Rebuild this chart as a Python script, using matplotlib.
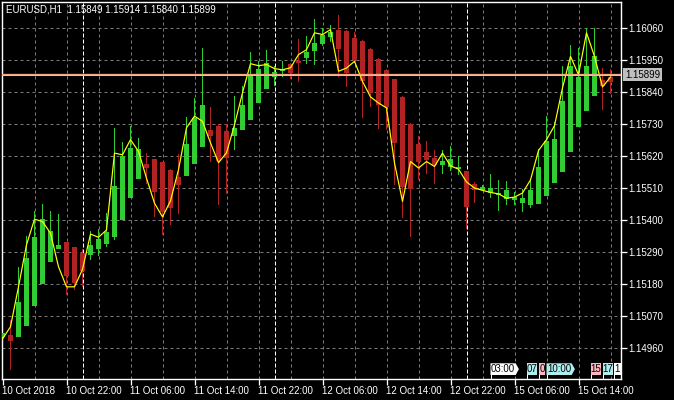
import matplotlib
matplotlib.use("Agg")
import matplotlib.pyplot as plt
from matplotlib.patches import Polygon, Rectangle
import matplotlib.transforms as mtransforms

# ---- datos del grafico (EURUSD H1) ----
symbol_title = "EURUSD,H1  1.15849 1.15914 1.15840 1.15899"

opens = [
    1.14999, 1.15005, 1.15000, 1.15037, 1.15106, 1.15182, 1.15257, 1.15301, 1.15325, 1.15308,
    1.15287, 1.15280, 1.15301, 1.15318, 1.15342, 1.15401, 1.15476, 1.15542, 1.15593, 1.15610,
    1.15600, 1.15573, 1.15549, 1.15552, 1.15593, 1.15652, 1.15710, 1.15724, 1.15707, 1.15690,
    1.15710, 1.15744, 1.15803, 1.15851, 1.15892, 1.15913, 1.15937, 1.15947, 1.15958, 1.15982,
    1.16006, 1.16030, 1.16054, 1.16050, 1.16026, 1.16016, 1.15989, 1.15954, 1.15916, 1.15885,
    1.15824, 1.15731, 1.15662, 1.15635, 1.15614, 1.15590, 1.15583, 1.15576, 1.15569, 1.15525,
    1.15504, 1.15494, 1.15487, 1.15473, 1.15470, 1.15459, 1.15452, 1.15456, 1.15483, 1.15528,
    1.15566, 1.15635, 1.15720, 1.15775, 1.15827, 1.15882, 1.15892]

highs = [
    1.15023, 1.15057, 1.15239, 1.15346, 1.15432, 1.15456, 1.15432, 1.15421, 1.15326, 1.15309,
    1.15301, 1.15363, 1.15370, 1.15425, 1.15717, 1.15669, 1.15724, 1.15683, 1.15631, 1.15611,
    1.15601, 1.15574, 1.15628, 1.15755, 1.15820, 1.15992, 1.15789, 1.15731, 1.15731, 1.15827,
    1.15861, 1.15978, 1.15947, 1.15985, 1.15930, 1.15947, 1.15938, 1.16023, 1.16033, 1.16092,
    1.16061, 1.16071, 1.16105, 1.16051, 1.16044, 1.16019, 1.15990, 1.15958, 1.15917, 1.15886,
    1.15825, 1.15734, 1.15690, 1.15672, 1.15641, 1.15641, 1.15655, 1.15621, 1.15570, 1.15531,
    1.15521, 1.15559, 1.15538, 1.15535, 1.15497, 1.15507, 1.15542, 1.15645, 1.15758, 1.15738,
    1.15930, 1.16002, 1.15992, 1.16061, 1.16061, 1.15923, 1.15920]

lows = [
    1.14988, 1.14885, 1.14998, 1.15036, 1.15105, 1.15181, 1.15256, 1.15300, 1.15143, 1.15160,
    1.15170, 1.15263, 1.15277, 1.15308, 1.15332, 1.15400, 1.15475, 1.15541, 1.15525, 1.15411,
    1.15349, 1.15384, 1.15421, 1.15551, 1.15592, 1.15651, 1.15600, 1.15452, 1.15490, 1.15641,
    1.15709, 1.15743, 1.15802, 1.15850, 1.15861, 1.15891, 1.15885, 1.15875, 1.15937, 1.15934,
    1.15999, 1.16013, 1.15892, 1.15858, 1.15940, 1.15751, 1.15789, 1.15714, 1.15710, 1.15521,
    1.15408, 1.15342, 1.15538, 1.15559, 1.15525, 1.15559, 1.15569, 1.15555, 1.15370, 1.15459,
    1.15500, 1.15476, 1.15432, 1.15452, 1.15452, 1.15428, 1.15442, 1.15455, 1.15482, 1.15527,
    1.15565, 1.15634, 1.15719, 1.15774, 1.15826, 1.15779, 1.15834]

closes = [
    1.15012, 1.14985, 1.15119, 1.15270, 1.15342, 1.15404, 1.15363, 1.15315, 1.15208, 1.15184,
    1.15225, 1.15315, 1.15335, 1.15359, 1.15518, 1.15621, 1.15648, 1.15645, 1.15580, 1.15497,
    1.15428, 1.15442, 1.15521, 1.15662, 1.15751, 1.15796, 1.15690, 1.15604, 1.15614, 1.15717,
    1.15796, 1.15899, 1.15920, 1.15940, 1.15910, 1.15920, 1.15906, 1.15940, 1.15978, 1.16009,
    1.16037, 1.16044, 1.15989, 1.15906, 1.15951, 1.15879, 1.15837, 1.15796, 1.15789, 1.15665,
    1.15514, 1.15507, 1.15600, 1.15607, 1.15590, 1.15604, 1.15610, 1.15583, 1.15445, 1.15504,
    1.15514, 1.15511, 1.15494, 1.15504, 1.15480, 1.15476, 1.15504, 1.15583, 1.15672, 1.15679,
    1.15810, 1.15930, 1.15892, 1.15930, 1.15965, 1.15861, 1.15875]

# linea amarilla (indicador)
ma_line = [
    1.14992, 1.15034, 1.15171, 1.15315, 1.15403, 1.15395, 1.15355, 1.15240, 1.15171, 1.15171,
    1.15231, 1.15352, 1.15341, 1.15366, 1.15630, 1.15624, 1.15676, 1.15636, 1.15544, 1.15458,
    1.15411, 1.15466, 1.15573, 1.15717, 1.15757, 1.15739, 1.15665, 1.15597, 1.15631, 1.15727,
    1.15837, 1.15937, 1.15930, 1.15934, 1.15920, 1.15916, 1.15923, 1.15968, 1.15985, 1.16043,
    1.16037, 1.16054, 1.15911, 1.15922, 1.15945, 1.15876, 1.15823, 1.15802, 1.15785, 1.15596,
    1.15464, 1.15601, 1.15579, 1.15601, 1.15584, 1.15630, 1.15586, 1.15575, 1.15531, 1.15510,
    1.15502, 1.15495, 1.15490, 1.15475, 1.15479, 1.15493, 1.15538, 1.15639, 1.15676, 1.15724,
    1.15854, 1.15962, 1.15899, 1.16043, 1.15962, 1.15857, 1.15891]

bid_price = 1.15899

price_ticks = [1.16060, 1.15950, 1.15840, 1.15730, 1.15620, 1.15510,
               1.15400, 1.15290, 1.15180, 1.15070, 1.14960]

time_tick_bars = [0, 8, 16, 24, 32, 40, 48, 56, 64, 72]
time_tick_labels = ["10 Oct 2018", "10 Oct 22:00", "11 Oct 06:00", "11 Oct 14:00",
                    "11 Oct 22:00", "12 Oct 06:00", "12 Oct 14:00", "12 Oct 22:00",
                    "15 Oct 06:00", "15 Oct 14:00"]

# separadores de dia (barra de las 00:00)
day_start_bars = [10, 34, 58]

# eventos del calendario (posicion en barras, texto visible, tipo)
event_bars = [61, 65.5, 67, 68, 73.5, 75, 76.45]
event_labels = ["03:00", "07", "0", "10:00", "15", "17", "1"]
event_kinds = [0, 1, 2, 1, 2, 1, 0]

# ---- estilo ----
PX = 0.72  # 1 pixel en puntos (dpi=100)
verde = "#32cd32"
rojo = "#b22222"
color_evento = {0: "#ffffff", 1: "#afeeee", 2: "#ffb6c1"}
fuente = "Liberation Sans"

fig = plt.figure(figsize=(6.74, 4.0), dpi=100, facecolor="black")
ax = fig.add_axes([2 / 674, 21 / 400, 619 / 674, 377 / 400], facecolor="black")

n = len(opens)
# 8 pixeles por barra, centros de vela sobre centros de pixel
x_min = -0.0625
x_max = x_min + 619 / 8
y_min, y_max = 1.148545, 1.161487
ax.set_xlim(x_min, x_max)
ax.set_ylim(y_min, y_max)

# rejilla punteada
for p in price_ticks:
    ax.axhline(p, color="#7a7a7a", lw=PX, linestyle=(0, (3, 3)), zorder=0)
for b in range(4, n + 1, 4):
    ax.axvline(b, color="#7a7a7a", lw=PX, linestyle=(0, (3, 3)), zorder=0)
for b in day_start_bars:
    ax.axvline(b, color="white", lw=PX, linestyle=(0, (4, 2)), zorder=0.5)

# velas: mecha de 1 px y cuerpo de 5 px
min_body = 0.000035
ancho = 5 / 8
ancho_mecha = 1 / 8
for i in range(n):
    o, h, l, c = opens[i], highs[i], lows[i], closes[i]
    col = verde if c >= o else rojo
    ax.add_patch(Rectangle((i - ancho_mecha / 2, l), ancho_mecha, h - l, fc=col,
                           ec="none", zorder=2))
    alto = max(abs(c - o), min_body)
    ax.add_patch(Rectangle((i - ancho / 2, min(o, c)), ancho, alto, fc=col,
                           ec="none", zorder=3))

# indicador amarillo
ax.plot(range(n), ma_line, color="#ffff00", lw=PX * 1.2, zorder=4)

# linea bid / ask
ax.axhline(bid_price + 0.000017, color="#f4a582", lw=PX * 1.3, zorder=5)
ax.axhline(bid_price - 0.000017, color="#c8c8c8", lw=PX, zorder=5)

# ejes
for s in ax.spines.values():
    s.set_color("white")
    s.set_linewidth(PX * 1.4)

ax.yaxis.tick_right()
ax.set_yticks(price_ticks)
ax.set_yticklabels([f"{p:.5f}" for p in price_ticks], fontfamily=fuente)
ax.set_xticks(time_tick_bars)
ax.set_xticklabels(time_tick_labels, fontfamily=fuente, ha="left")
ax.tick_params(colors="white", labelsize=7, length=4, width=PX * 1.3, pad=1)

# etiqueta de precio a la derecha
ax.annotate(f"{bid_price:.5f}", xy=(1.0, bid_price), xycoords=("axes fraction", "data"),
            xytext=(4, 0), textcoords="offset pixels", va="center", ha="left",
            fontsize=7, fontfamily=fuente, color="black",
            bbox=dict(boxstyle="square,pad=0.18", fc="#c0c0c0", ec="none"),
            annotation_clip=False)

# titulo
fig.text(6 / 674, 1 - 10 / 400, symbol_title, color="white", fontsize=7,
         fontfamily=fuente, va="center", ha="left")

# marcadores de eventos abajo a la derecha
trans = mtransforms.blended_transform_factory(ax.transData, ax.transAxes)
y0, y1 = 4 / 377, 15.7 / 377
ym = (y0 + y1) / 2
ancho_total = 3.55
flecha = 0.4
for k, x0 in enumerate(event_bars):
    sig = event_bars[k + 1] - 0.13 if k + 1 < len(event_bars) else x_max - 0.05
    x1 = min(x0 + ancho_total, sig)
    col = color_evento[event_kinds[k]]
    if x1 >= x0 + ancho_total - 1e-6:
        pts = [(x0, y0), (x0, y1), (x1 - flecha, y1), (x1, ym), (x1 - flecha, y0)]
        xc = (x0 + x1 - flecha) / 2
    else:
        pts = [(x0, y0), (x0, y1), (x1, y1), (x1, y0)]
        xc = (x0 + x1) / 2
    ax.add_patch(Polygon(pts, closed=True, fc=col, ec="none", transform=trans, zorder=6))
    ax.plot([x0, x0], [0, y0], color="white", lw=PX, transform=trans, zorder=6)
    ax.text(xc, ym, event_labels[k], transform=trans, ha="center", va="center",
            fontsize=7, fontfamily=fuente, color="black", zorder=7)

fig.savefig("out.png", dpi=100, facecolor="black")
